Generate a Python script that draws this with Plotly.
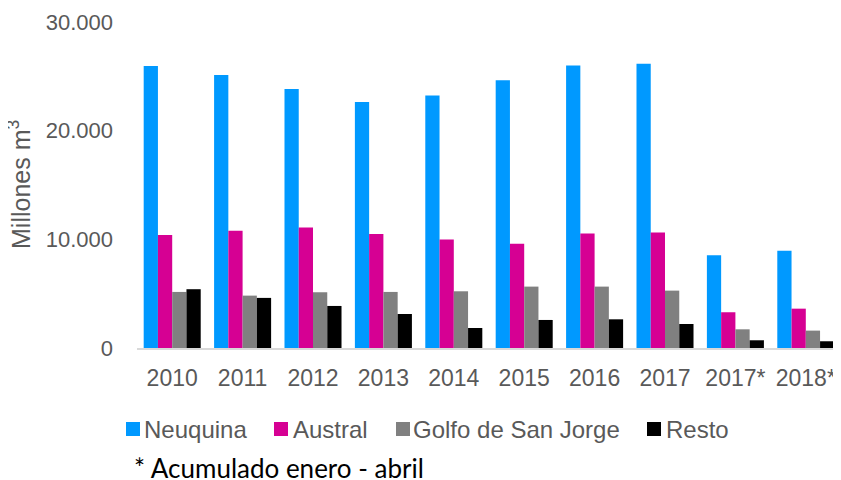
import plotly.graph_objects as go

years = ["2010", "2011", "2012", "2013", "2014", "2015", "2016", "2017", "2017*", "2018*"]
neuquina = [25960, 25130, 23840, 22640, 23230, 24640, 25990, 26150, 8540, 8940]
austral = [10390, 10780, 11090, 10480, 9980, 9590, 10530, 10630, 3290, 3620]
golfo = [5160, 4820, 5130, 5160, 5220, 5650, 5650, 5280, 1720, 1600]
resto = [5410, 4610, 3870, 3130, 1840, 2580, 2640, 2210, 710, 620]
series_names = ["Neuquina", "Austral", "Golfo de San Jorge", "Resto"]
series_values = [neuquina, austral, golfo, resto]
colors = ["#0099FF", "#D60093", "#808080", "#000000"]
y_ticks = [0, 10000, 20000, 30000]
y_tick_text = ["0", "10.000", "20.000", "30.000"]

fig = go.Figure()
for name, vals, col in zip(series_names, series_values, colors):
    fig.add_trace(go.Bar(x=years, y=vals, name=name, marker=dict(color=col, line=dict(width=0)),
                         showlegend=False))

# page body has an 8px margin, so the figure is placed at (8, 8)
W, H = 833, 472
L, R, T = 129, 0, 14
ph = 326
B = H - T - ph
pw = W - L - R

def px(x):
    return (x - L) / pw

def py(y):
    return (T + ph - y) / ph

GREY = "#595959"
FONT = "Liberation Sans, Arial, sans-serif"

shapes = []
annotations = []
# custom legend (positions in figure pixels)
sq_x = [118, 266, 388, 639]
tx_x = [134, 283, 403, 656]
ly = 421
for name, col, sx, tx in zip(series_names, colors, sq_x, tx_x):
    shapes.append(dict(type="rect", xref="paper", yref="paper",
                       x0=px(sx), x1=px(sx + 14), y0=py(ly + 7), y1=py(ly - 7),
                       fillcolor=col, line=dict(width=0)))
    annotations.append(dict(text=name, xref="paper", yref="paper", x=px(tx), y=py(ly),
                            xanchor="left", yanchor="middle", showarrow=False,
                            font=dict(family=FONT, size=24, color=GREY)))

# y axis title
annotations.append(dict(text="Millones m<sup>3</sup>", xref="paper", yref="paper",
                        x=px(11), y=py(177), xanchor="center", yanchor="middle",
                        textangle=-90, showarrow=False,
                        font=dict(family=FONT, size=25, color=GREY)))
# footnote
annotations.append(dict(text="* Acumulado enero - abril", xref="paper", yref="paper",
                        x=px(124), y=py(460), xanchor="left", yanchor="middle",
                        showarrow=False,
                        font=dict(family="Lato, Carlito, sans-serif", size=26, color="#000000")))

fig.update_layout(
    width=W, height=H,
    margin=dict(l=L, r=R, t=T, b=B, pad=0, autoexpand=False),
    paper_bgcolor="white", plot_bgcolor="white",
    barmode="group", bargap=0.19, bargroupgap=0,
    font=dict(family=FONT, size=22, color=GREY),
    showlegend=False,
    xaxis=dict(showgrid=False, showline=True, linecolor="#D9D9D9", linewidth=2,
               ticks="", ticklabelstandoff=8, tickfont=dict(size=23, color=GREY)),
    yaxis=dict(range=[0, 30000], tickvals=y_ticks, ticktext=y_tick_text, showgrid=False,
               zeroline=False, showline=False, ticks="", ticklabelstandoff=23,
               tickfont=dict(size=22, color=GREY)),
    shapes=shapes,
    annotations=annotations,
)

fig.write_html("out.html")
